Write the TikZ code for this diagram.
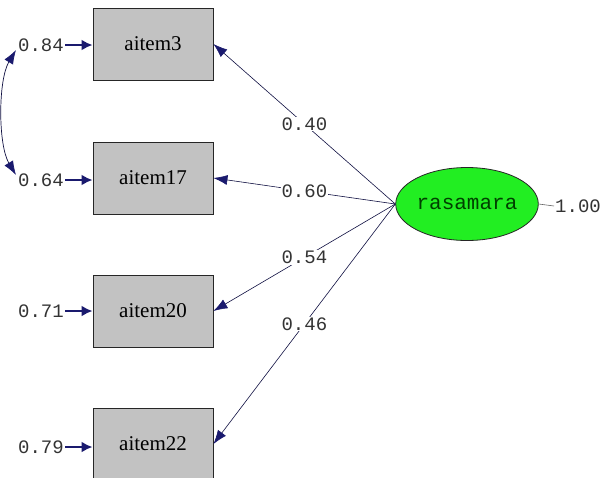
\documentclass[tikz,border=0pt]{standalone}
\usepackage{fontspec}
\setmainfont{Liberation Serif}
\newfontfamily\monofont{Liberation Mono}
\usetikzlibrary{arrows.meta,shapes.geometric}
\definecolor{navy}{HTML}{1A1A6E}
\definecolor{boxgray}{HTML}{C2C2C2}
\definecolor{lgreen}{HTML}{22EE22}
\begin{document}
\begin{tikzpicture}[x=1pt,y=-1pt,
  obs/.style={draw=black!85, line width=0.9pt, fill=boxgray, minimum width=120pt, minimum height=72pt, inner sep=0pt, font=\fontsize{21}{21}\selectfont},
  lat/.style={ellipse, draw=black!85, line width=0.8pt, fill=lgreen, minimum width=120pt, minimum height=73pt, inner sep=0pt, font=\monofont\fontsize{21}{21}\selectfont, text=black!75!green},
  num/.style={font=\monofont\fontsize{19}{19}\selectfont, inner sep=1pt, text=black!80},
  lab/.style={num, fill=white, pos=0.5},
  tipL/.tip={Latex[length=14pt,width=10pt,color=navy]},
  load/.style={draw=navy!60!black, line width=0.6pt, -tipL},
  err/.style={draw=navy, line width=2.2pt, -{Latex[length=11pt,width=11pt,color=navy]}},
  cov/.style={draw=navy!60!black, line width=0.7pt, tipL-tipL}
]
\useasboundingbox (0,0) rectangle (607,477);
\clip (0,0) rectangle (607,477);
\fill[white] (0,0) rectangle (607,477);

\node[obs] (i3)  at (153,44)  {aitem3};
\node[obs] (i17) at (153,178) {aitem17};
\node[obs] (i20) at (153,311) {aitem20};
\node[obs] (i22) at (153,444) {aitem22};
\node[lat] (r)   at (467,204) {rasamara};

\node[num] (e3)  at (41,45)  {0.84};
\node[num] (e17) at (41,180) {0.64};
\node[num] (e20) at (41,311) {0.71};
\node[num] (e22) at (41,447) {0.79};
\node[num] (one) at (578,206) {1.00};

\draw[err] (e3.east)  -- (e3.east -| i3.west);
\draw[err] (e17.east) -- (e17.east -| i17.west);
\draw[err] (e20.east) -- (e20.east -| i20.west);
\draw[err] (e22.east) -- (e22.east -| i22.west);

\draw[cov] ([shift={(-1,5)}]e3.west) .. controls +(-18,30) and +(-18,-30) .. ([shift={(-1,-5)}]e17.west);

\draw[load] (r.west) -- node[lab] {0.40} (i3.east);
\draw[load] (r.west) -- node[lab] {0.60} (i17.east);
\draw[load] (r.west) -- node[lab] {0.54} (i20.east);
\draw[load] (r.west) -- node[lab] {0.46} (i22.east);

\draw[black!60, line width=0.6pt] (r.east) -- (one.west);
\end{tikzpicture}
\end{document}
